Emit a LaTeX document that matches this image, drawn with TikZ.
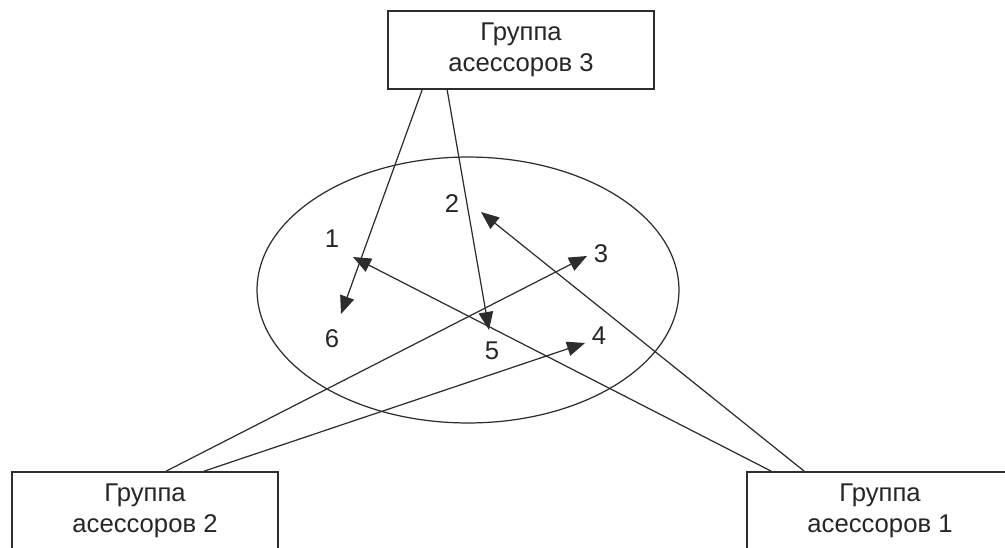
\documentclass[tikz,border=0pt]{standalone}
\usepackage{fontspec}
\setmainfont{Liberation Sans}
\usetikzlibrary{arrows.meta, calc}
\definecolor{linegray}{RGB}{45,45,45}

\begin{document}
\begin{tikzpicture}[x=0.02cm, y=-0.02cm,
    grp/.style={rectangle, draw=linegray, line width=1pt, minimum width=5.32cm, minimum height=1.56cm, align=center, font=\fontsize{14.6}{17.6}\selectfont, text=black!85},
    num/.style={font=\fontsize{14.6}{16}\selectfont, text=black!85, inner sep=0pt},
    arr/.style={-{Triangle[length=3.6mm, width=2.9mm]}, line width=0.7pt, color=linegray},
    oval/.style={draw=linegray, line width=0.7pt}
]
\useasboundingbox (0,0) rectangle (1005,548);
\clip (0,0) rectangle (1005,548);

% groups of assessors
\node[grp] (g3) at (521,50) {Группа\\асессоров 3};
\node[grp] (g2) at (145,511) {Группа\\асессоров 2};
\node[grp] (g1) at (880,511) {Группа\\асессоров 1};

% set of objects
\draw[oval] (468,290) ellipse [x radius=4.22cm, y radius=2.66cm];
\node[num] (n1) at (332,239) {1};
\node[num] (n2) at (452,204) {2};
\node[num] (n3) at (601,254) {3};
\node[num] (n4) at (599,336) {4};
\node[num] (n5) at (492,351) {5};
\node[num] (n6) at (332,339) {6};

% arrow ends
\coordinate (g3a) at ($(g3.south west)+(35,0)$);
\coordinate (g3b) at ($(g3.south west)+(60,0)$);
\coordinate (g2a) at ($(g2.north west)+(155,0)$);
\coordinate (g2b) at ($(g2.north west)+(193,0)$);
\coordinate (g1a) at ($(g1.north west)+(25,0)$);
\coordinate (g1b) at ($(g1.north west)+(58,0)$);
\coordinate (t1) at ($(n1)+(21,18)$);
\coordinate (t2) at ($(n2)+(29,8)$);
\coordinate (t3) at ($(n3)+(-14,2)$);
\coordinate (t4) at ($(n4)+(-14,7)$);
\coordinate (t5) at ($(n5)+(-3,-21)$);
\coordinate (t6) at ($(n6)+(9,-25)$);

\draw[arr] (g3a) -- (t6);
\draw[arr] (g3b) -- (t5);
\draw[arr] (g2a) -- (t3);
\draw[arr] (g2b) -- (t4);
\draw[arr] (g1a) -- (t1);
\draw[arr] (g1b) -- (t2);
\end{tikzpicture}
\end{document}
